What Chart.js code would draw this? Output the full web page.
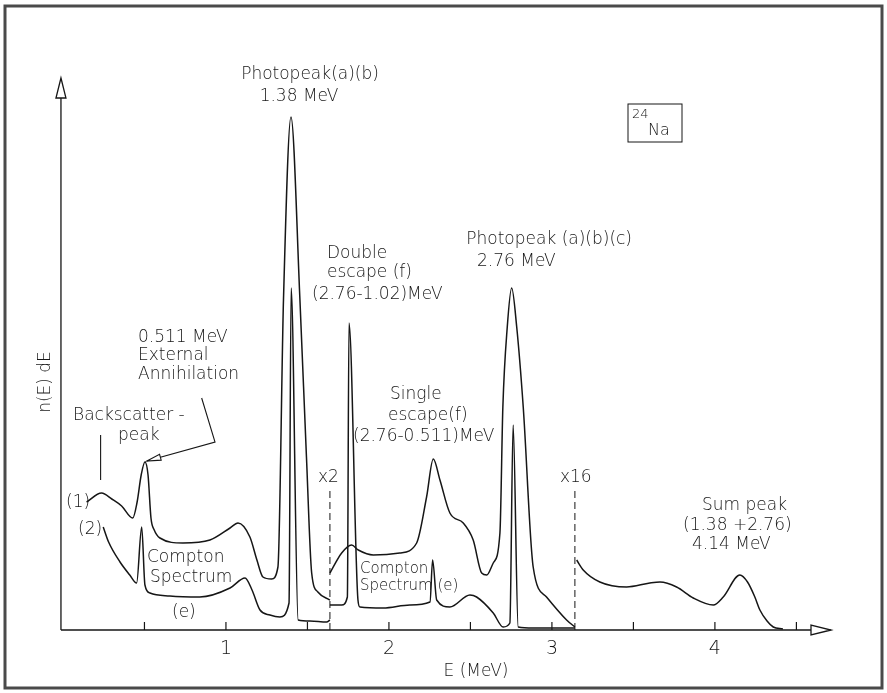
<!DOCTYPE html>
<html>
<head>
<meta charset="utf-8">
<title>24Na gamma-ray spectrum</title>
<script src="https://cdn.jsdelivr.net/npm/chart.js@4.4.0/dist/chart.umd.min.js"></script>
<style>
  html, body { margin: 0; padding: 0; background: #fff; }
  canvas { display: block; }
</style>
</head>
<body>
<canvas id="spectrum" width="887" height="693"></canvas>
<script>
// energy (MeV) and n(E) in arbitrary units, one pair of arrays per drawn piece
const xTicks = [1, 2, 3, 4];
const xMinorTicks = [0.5, 1.5, 2.5, 3.5, 4.5];

// curve (1), gain x1
const upper1E = [0.145, 0.237, 0.300, 0.360, 0.428, 0.455, 0.480, 0.503, 0.522, 0.540, 0.560, 0.595, 0.736, 0.902, 1.025, 1.074, 1.147, 1.190, 1.227, 1.280, 1.319, 1.353, 1.399, 1.454, 1.494, 1.526, 1.564, 1.638];
const upper1N = [128, 137, 131, 124, 112, 128, 155, 168, 155, 112, 100, 92, 87, 90, 102, 107, 93, 70, 53, 51, 63, 330, 513, 330, 173, 57, 38, 30];

// curve (2), gain x1
const lower1E = [0.247, 0.280, 0.350, 0.410, 0.452, 0.483, 0.503, 0.534, 0.656, 0.840, 1.025, 1.117, 1.160, 1.209, 1.270, 1.331, 1.387, 1.400, 1.443, 1.515, 1.618, 1.638];
const lower1N = [103, 88, 68, 55, 47, 103, 45, 37, 34, 33, 42, 52, 40, 20, 15, 13, 27, 342, 10, 9, 8, 10];

// curve (1), gain x2
const upper2E = [1.638, 1.710, 1.771, 1.812, 1.904, 2.067, 2.170, 2.231, 2.272, 2.313, 2.374, 2.456, 2.517, 2.569, 2.600, 2.640, 2.681, 2.699, 2.726, 2.753, 2.784, 2.824, 2.885, 2.967, 3.090, 3.141];
const upper2N = [57, 77, 85, 80, 75, 77, 87, 133, 171, 150, 117, 107, 90, 57, 55, 67, 97, 223, 303, 342, 303, 223, 63, 33, 10, 3];

// curve (2), gain x2
const lower2E = [1.638, 1.710, 1.745, 1.755, 1.810, 1.822, 1.965, 2.129, 2.252, 2.268, 2.293, 2.374, 2.497, 2.538, 2.640, 2.701, 2.742, 2.762, 2.793, 2.885, 3.141];
const lower2N = [25, 25, 33, 307, 30, 23, 22, 25, 28, 70, 30, 23, 35, 33, 17, 3, 7, 205, 3, 2, 2];

// gain x16 tail with the sum peak
const tailE = [3.152, 3.192, 3.294, 3.458, 3.601, 3.663, 3.765, 3.867, 3.990, 4.051, 4.153, 4.200, 4.245, 4.276, 4.320, 4.358, 4.417];
const tailN = [70, 60, 48, 43, 47, 48, 43, 32, 25, 33, 55, 48, 33, 20, 9, 3, 1];

// gain change markers
const gainE = [1.638, 3.141];
const gainLabels = ['x2', 'x16'];
const gainTopN = 140;

function pts(es, ns) {
    return es.map(function (e, i) { return { x: e, y: ns[i] }; });
}

let ink = '#161616';

let curve = {
    borderColor: ink,
    borderWidth: 1.5,
    pointRadius: 0,
    fill: false,
    cubicInterpolationMode: 'monotone'
};

let sets = [
    Object.assign({ data: pts(upper1E, upper1N) }, curve),
    Object.assign({ data: pts(lower1E, lower1N) }, curve),
    Object.assign({ data: pts(upper2E, upper2N) }, curve),
    Object.assign({ data: pts(lower2E, lower2N) }, curve),
    Object.assign({ data: pts(tailE, tailN) }, curve)
];
gainE.forEach(function (e) {
    sets.push({
        data: [{ x: e, y: 0 }, { x: e, y: gainTopN }],
        borderColor: ink,
        borderWidth: 1,
        borderDash: [7, 4],
        pointRadius: 0,
        tension: 0
    });
});

// texts written on the figure
const notes = [
    { t: 'Photopeak(a)(b)', x: 310, y: 75, a: 'center' },
    { t: '1.38 MeV', x: 299, y: 97, a: 'center' },
    { t: 'Double', x: 327, y: 254 },
    { t: 'escape (f)', x: 327, y: 273 },
    { t: '(2.76-1.02)MeV', x: 312, y: 295 },
    { t: 'Photopeak (a)(b)(c)', x: 632, y: 240, a: 'right' },
    { t: '2.76 MeV', x: 477, y: 262 },
    { t: '0.511 MeV', x: 138, y: 338 },
    { t: 'External', x: 138, y: 356 },
    { t: 'Annihilation', x: 138, y: 375 },
    { t: 'Single', x: 390, y: 395 },
    { t: 'escape(f)', x: 388, y: 416 },
    { t: '(2.76-0.511)MeV', x: 353, y: 437 },
    { t: 'Backscatter -', x: 73, y: 416 },
    { t: 'peak', x: 118, y: 436 },
    { t: '(1)', x: 66, y: 503 },
    { t: '(2)', x: 78, y: 530 },
    { t: 'Compton', x: 147, y: 558 },
    { t: 'Spectrum', x: 150, y: 578 },
    { t: '(e)', x: 172, y: 613 },
    { t: 'Compton', x: 360, y: 569, s: 15 },
    { t: 'Spectrum (e)', x: 360, y: 586, s: 15 },
    { t: 'Sum peak', x: 702, y: 506 },
    { t: '(1.38 +2.76)', x: 683, y: 526 },
    { t: '4.14 MeV', x: 692, y: 545 },
    { t: 'E (MeV)', x: 476, y: 672, a: 'center' }
];

// pointer lines, in (MeV, n) units
const backscatterPointer = [[0.231, 195], [0.231, 150]];
const annihilationPointer = [[0.851, 232], [0.933, 188], [0.515, 169]];

const FONT = '"DejaVu Sans", sans-serif';

function hollowArrow(ctx, tipX, tipY, dx, dy, len, half) {
    // dx,dy unit direction of the arrow
    let bx = tipX - dx * len, by = tipY - dy * len;
    ctx.beginPath();
    ctx.moveTo(tipX, tipY);
    ctx.lineTo(bx - dy * half, by + dx * half);
    ctx.lineTo(bx + dy * half, by - dx * half);
    ctx.closePath();
    ctx.fillStyle = '#fff';
    ctx.fill();
    ctx.stroke();
}

const decor = {
    id: 'decor',
    beforeDraw(chart) {
        let ctx = chart.ctx;
        ctx.save();
        ctx.fillStyle = '#fff';
        ctx.fillRect(0, 0, chart.width, chart.height);
        ctx.restore();
    },
    afterDraw(chart) {
        let ctx = chart.ctx;
        let x = chart.scales.x, y = chart.scales.y;
        let x0 = x.getPixelForValue(0) - 2;
        let y0 = y.getPixelForValue(0);
        let xEnd = x.getPixelForValue(4.7);
        ctx.save();

        // scanned frame
        ctx.strokeStyle = '#4a4a4a';
        ctx.lineWidth = 3;
        ctx.strokeRect(5, 6, 877, 682);

        // axes with open arrow heads
        ctx.strokeStyle = ink;
        ctx.lineWidth = 1.3;
        ctx.beginPath();
        ctx.moveTo(x0, y0);
        ctx.lineTo(x0, 92);
        ctx.moveTo(x0, y0);
        ctx.lineTo(xEnd - 16, y0);
        ctx.stroke();
        hollowArrow(ctx, x0, 78, 0, -1, 20, 5);
        hollowArrow(ctx, xEnd + 2, y0, 1, 0, 20, 5);

        // ticks point up into the plot
        ctx.lineWidth = 1.2;
        xTicks.concat(xMinorTicks).forEach(function (v) {
            let px = x.getPixelForValue(v);
            ctx.beginPath();
            ctx.moveTo(px, y0);
            ctx.lineTo(px, y0 - 8);
            ctx.stroke();
        });
        ctx.fillStyle = ink;
        ctx.font = '300 19px ' + FONT;
        ctx.textAlign = 'center';
        ctx.textBaseline = 'middle';
        xTicks.forEach(function (v) {
            ctx.fillText(String(v), x.getPixelForValue(v), y0 + 19);
        });

        // gain labels above the dashed lines
        ctx.font = '300 17px ' + FONT;
        ctx.textAlign = 'left';
        gainE.forEach(function (e, i) {
            ctx.fillText(gainLabels[i], x.getPixelForValue(e) - (i ? 15 : 12), y.getPixelForValue(gainTopN) - 12);
        });

        // pointer lines
        ctx.lineWidth = 1.1;
        [backscatterPointer, annihilationPointer].forEach(function (line) {
            ctx.beginPath();
            line.forEach(function (p, i) {
                let px = x.getPixelForValue(p[0]), py = y.getPixelForValue(p[1]);
                if (i) ctx.lineTo(px, py); else ctx.moveTo(px, py);
            });
            ctx.stroke();
        });
        let a = annihilationPointer;
        let ax = x.getPixelForValue(a[2][0]), ay = y.getPixelForValue(a[2][1]);
        let bx = x.getPixelForValue(a[1][0]), by = y.getPixelForValue(a[1][1]);
        let d = Math.hypot(ax - bx, ay - by);
        hollowArrow(ctx, ax, ay, (ax - bx) / d, (ay - by) / d, 14, 3);

        // annotations
        ctx.fillStyle = ink;
        ctx.textBaseline = 'middle';
        notes.forEach(function (n) {
            ctx.font = '300 ' + (n.s || 17) + 'px ' + FONT;
            ctx.textAlign = n.a || 'left';
            ctx.fillText(n.t, n.x, n.y);
        });

        // y axis title
        ctx.save();
        ctx.translate(46, 382);
        ctx.rotate(-Math.PI / 2);
        ctx.font = '300 17px ' + FONT;
        ctx.textAlign = 'center';
        ctx.fillText('n(E) dE', 0, 0);
        ctx.restore();

        // nuclide box
        ctx.lineWidth = 1;
        ctx.strokeRect(628, 104, 54, 38);
        ctx.font = '300 13px ' + FONT;
        ctx.textAlign = 'left';
        ctx.fillText('24', 632, 115);
        ctx.font = '300 16px ' + FONT;
        ctx.fillText('Na', 648, 131);

        ctx.restore();
    }
};

window.onload = function () {
    let context = document.querySelector('#spectrum').getContext('2d');
    new Chart(context, {
        type: 'line',
        data: { datasets: sets },
        options: {
            responsive: false,
            animation: false,
            parsing: true,
            layout: { padding: { left: 61, right: 58, top: 90, bottom: 63 } },
            plugins: {
                legend: { display: false },
                tooltip: { enabled: false }
            },
            scales: {
                x: { type: 'linear', min: -0.012, max: 4.7, display: false },
                y: { min: 0, max: 540, display: false }
            }
        },
        plugins: [decor]
    });
};
</script>
</body>
</html>
